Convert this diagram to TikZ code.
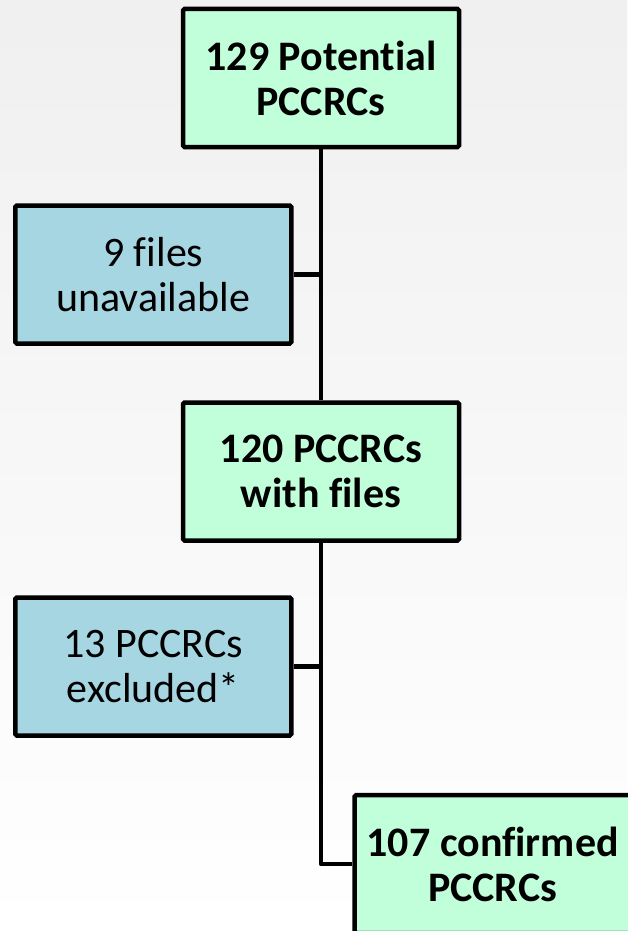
\documentclass[tikz,border=0pt]{standalone}
\usepackage{fontspec}
\setmainfont[Ligatures=NoCommon]{Carlito}
\usepackage{tikz}
\usetikzlibrary{shapes,arrows,positioning}
\definecolor{flowgreen}{RGB}{192, 255, 218}
\definecolor{flowblue}{RGB}{166, 214, 226}

\tikzset{
  flowbox/.style={draw=black, line width=4.5pt, rounded corners=1.5pt,
    minimum width=276pt, minimum height=138pt, align=center,
    font=\fontsize{42}{45}\selectfont},
  keptbox/.style={flowbox, fill=flowgreen, font=\fontsize{42}{45}\selectfont\bfseries},
  dropbox/.style={flowbox, fill=flowblue},
  link/.style={line width=4.5pt, line join=round}
}

\begin{document}
\begin{tikzpicture}[x=1pt,y=-1pt]
% page and background
\useasboundingbox (0,0) rectangle (627,931);
\shade[top color=black!6, bottom color=white] (0,0) rectangle (627,931);

% main column
\node[keptbox] (potential) at (321,78) {129 Potential\\PCCRCs};
\node[keptbox] (withfiles) at (321,471.5) {120 PCCRCs\\with files};
\node[keptbox] (confirmed) at (492.7,864) {107 confirmed\\PCCRCs};

% side boxes
\node[dropbox] (unavail) at (153.3,274.5) {9 files\\unavailable};
\node[dropbox] (excluded) at (153.3,666.5) {13 PCCRCs\\excluded*};

% connectors
\draw[link] (potential.south) -- (withfiles.north);
\draw[link] (unavail.east) -- (unavail.east -| potential.south);
\draw[link] (withfiles.south) |- (confirmed.west);
\draw[link] (excluded.east) -- (excluded.east -| withfiles.south);
\end{tikzpicture}
\end{document}
